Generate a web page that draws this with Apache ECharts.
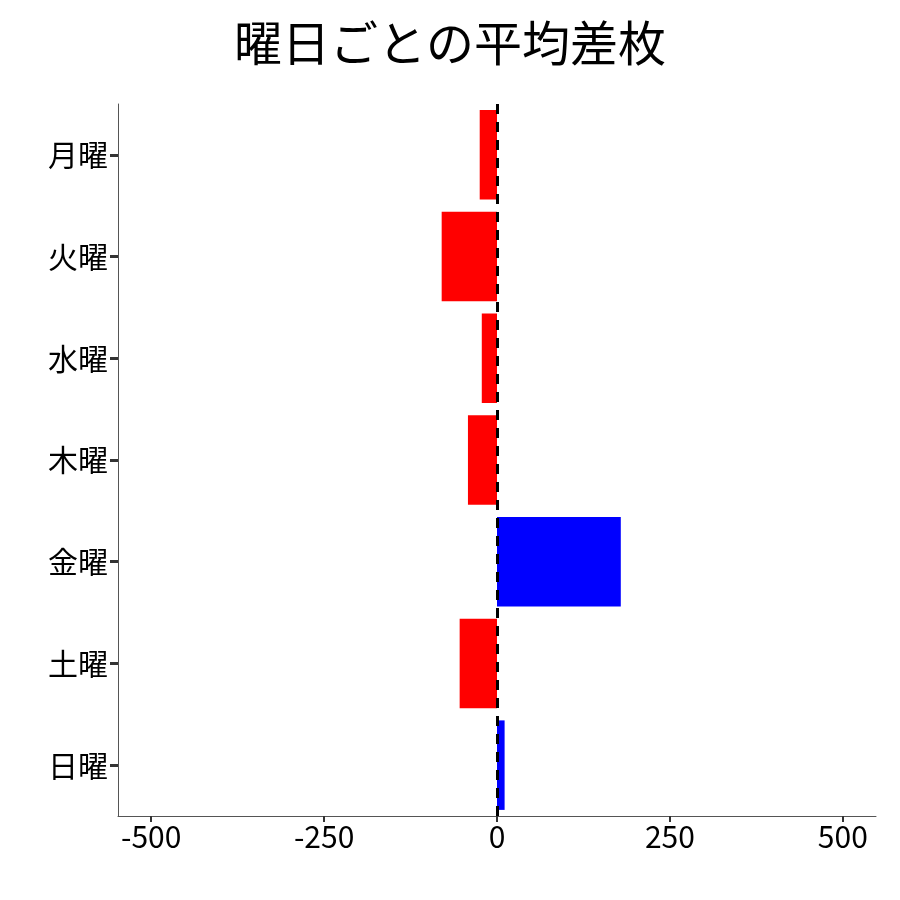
<!DOCTYPE html>
<html><head><meta charset="utf-8">
<script src="https://cdn.jsdelivr.net/npm/echarts@6/dist/echarts.min.js"></script>
<style>html,body{margin:0;padding:0;background:#fff}#c{width:900px;height:900px}</style>
</head><body><div id="c"></div>
<script>
const categories = ['月曜','火曜','水曜','木曜','金曜','土曜','日曜'];
const values = [-25, -80, -22, -42, 179, -54, 11];
const tickValues = [-500, -250, 0, 250, 500];
const chart = echarts.init(document.getElementById('c'));
const font = '"Noto Sans CJK JP", "Noto Sans", sans-serif';
chart.setOption({
  animation:false,
  title:{text:'曜日ごとの平均差枚', left:'center', top:14, textStyle:{fontFamily:font, fontSize:48, fontWeight:'normal', color:'#000'}},
  grid:{left:118, right:24, top:104, bottom:84},
  xAxis:{type:'value', min:-548, max:548,
    axisLine:{show:true, onZero:false, lineStyle:{color:'#555', width:1}},
    axisTick:{show:true, customValues:tickValues, length:6, lineStyle:{color:'#333', width:2}},
    axisLabel:{customValues:tickValues, fontFamily:font, fontSize:30, color:'#000', margin:6},
    splitLine:{show:false}},
  yAxis:{type:'category', data:categories, inverse:true,
    axisLine:{show:true, onZero:false, lineStyle:{color:'#555', width:1}},
    axisTick:{show:true, alignWithLabel:true, length:8, lineStyle:{color:'#333', width:3}},
    axisLabel:{fontFamily:font, fontSize:30, color:'#000', margin:10}},
  series:[{type:'bar', data:values.map(v=>({value:v, itemStyle:{color: v<0?'#ff0000':'#0000ff'}})),
    barWidth:'88%',
    markLine:{silent:true, symbol:'none', label:{show:false},
      lineStyle:{color:'#000', type:[10,8], width:3},
      data:[{xAxis:0}]}}]
});
</script></body></html>
